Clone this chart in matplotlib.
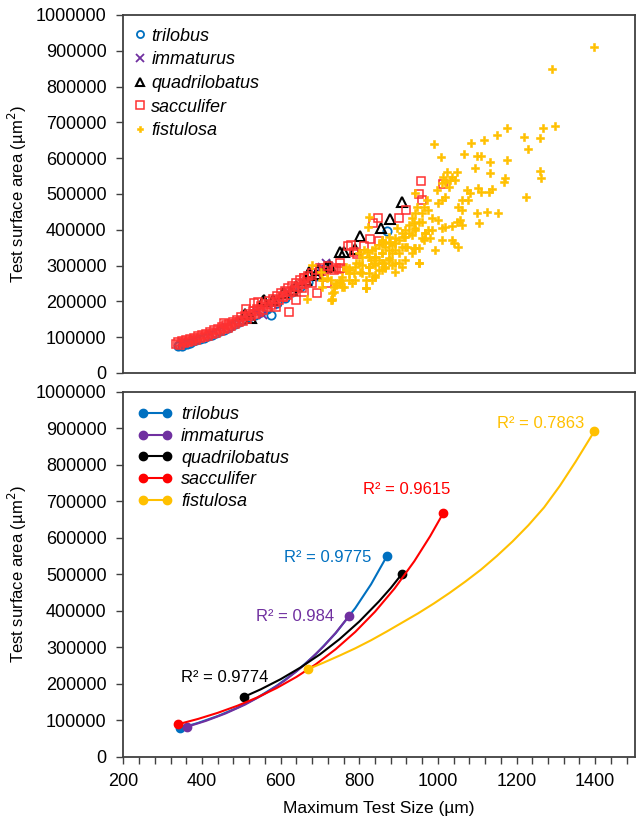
import numpy as np
import matplotlib.pyplot as plt
from matplotlib.ticker import MultipleLocator

plt.rcParams['font.family'] = ['Liberation Sans', 'DejaVu Sans']

# ---------- top panel: scatter of all specimens ----------
trilobus_x = [338, 342, 348, 355, 362, 370, 378, 386, 395, 405, 415, 425, 435, 445, 455,
              465, 475, 485, 495, 505, 520, 535, 550, 565, 576, 590, 610, 630, 650, 670,
              690, 871]
trilobus_y = [74000, 78000, 76000, 80000, 82000, 85000, 88000, 92000, 95000, 99000, 103000,
              107000, 112000, 117000, 121000, 126000, 131000, 136000, 142000, 147000, 155000,
              163000, 171000, 180000, 162000, 196000, 210000, 225000, 240000, 255000, 270000,
              397000]

immaturus_x = [350, 380, 420, 460, 500, 540, 555, 580, 620, 660, 700, 715, 723, 705]
immaturus_y = [86000, 95000, 110000, 128000, 148000, 170000, 162000, 190000, 225000, 255000,
               290000, 306000, 300000, 296000]

quadrilobatus_x = [909, 879, 856, 801, 752, 761, 789, 725, 672, 673, 559, 664, 694, 715, 630,
                   554, 525, 605, 690, 640, 580, 510]
quadrilobatus_y = [478000, 430000, 406000, 384000, 339000, 339000, 345000, 300000, 274000,
                   283000, 204000, 260000, 288000, 297000, 232000, 200000, 153000, 222000,
                   276000, 243000, 205000, 165000]

sacculifer_x = [335, 340, 345, 350, 355, 360, 365, 370, 375, 380, 385, 390, 395, 400, 405,
                410, 415, 420, 425, 430, 435, 440, 445, 450, 455, 460, 465, 470, 475, 480,
                485, 490, 495, 500, 505, 510, 515, 520, 525, 530, 535, 540, 545, 550, 555,
                560, 565, 570, 575, 580, 585, 590, 595, 600, 605, 610, 615, 620, 625, 630,
                635, 640, 645, 650, 655, 660, 665, 670, 680, 690, 700, 710, 720,
                958, 953, 959, 1012, 920, 900, 847, 834, 828, 850, 812, 780, 752, 748, 736,
                719, 693, 710, 681, 660, 655, 786, 795, 753, 740, 622, 772, 660, 639, 605,
                588, 542, 532, 512, 455]
sacculifer_y = [80000, 86000, 78000, 88000, 84000, 92000, 87000, 95000, 90000, 98000, 93000,
                103000, 97000, 106000, 101000, 110000, 104000, 114000, 108000, 119000, 113000,
                124000, 117000, 128000, 122000, 133000, 127000, 138000, 131000, 143000, 136000,
                149000, 141000, 155000, 146000, 160000, 152000, 166000, 158000, 172000, 164000,
                180000, 170000, 186000, 177000, 193000, 184000, 200000, 190000, 207000, 197000,
                214000, 204000, 222000, 211000, 229000, 218000, 236000, 226000, 244000, 233000,
                252000, 241000, 260000, 248000, 266000, 255000, 272000, 280000, 288000, 292000,
                285000, 300000,
                536000, 500000, 483000, 528000, 455000, 432000, 432000, 418000, 373000, 370000,
                355000, 357000, 306000, 290000, 288000, 250000, 224000, 269000, 250000, 264000,
                236000, 339000, 331000, 292000, 292000, 171000, 355000, 227000, 204000, 213000,
                185000, 199000, 195000, 178000, 140000]

fistulosa_x = [1398, 1290, 1297, 1267, 1175, 1151, 1218, 1259, 1228, 991, 1084, 1117, 1067,
               1008, 1099, 1110, 1132, 1175, 1094, 1132, 1048, 1023, 1035, 1014, 1259, 1261,
               1170, 1168, 1223, 1153, 1126, 1100, 1105, 1077, 1082, 1103, 1110, 1137, 1131,
               1073, 1061, 1052, 1061, 1056, 1061, 1048, 1035, 1018, 1010, 1001, 985, 976,
               1001, 1010, 1018, 1027, 997, 1010, 1018, 1031, 1044, 942, 972, 964, 947, 942,
               959, 938, 942, 926, 917, 909, 896, 917, 900, 892, 883, 866, 858, 875, 968, 964,
               951, 980, 1035, 1040, 1052, 1010, 985, 993, 938, 917, 934, 900, 883, 875, 858,
               850, 862, 837, 824, 829, 841, 900, 883, 917, 951, 892, 841, 816, 799, 790, 786,
               774, 765, 757, 752, 740, 736, 731, 730, 668, 706, 824, 823, 866, 850, 807, 816,
               774, 790, 782,
               913, 934, 892, 879, 866, 858, 850, 841, 833, 820, 812, 799, 807, 824, 841, 858,
               875, 892, 909, 921, 942, 875, 892, 858, 841, 824, 807, 791, 774, 765, 803, 824,
               841, 858, 866, 909, 833, 816, 757, 740, 731, 951, 959, 968, 976, 942, 926, 951,
               934, 959,
               681, 706, 719, 728, 753, 761, 736, 728, 702, 774]
fistulosa_y = [910000, 849000, 690000, 685000, 683000, 666000, 658000, 656000, 627000, 641000,
               643000, 651000, 611000, 602000, 606000, 607000, 588000, 595000, 572000, 558000,
               562000, 562000, 548000, 548000, 565000, 544000, 546000, 534000, 491000, 448000,
               450000, 446000, 418000, 483000, 502000, 516000, 506000, 513000, 506000, 511000,
               483000, 465000, 455000, 427000, 413000, 423000, 411000, 409000, 404000, 427000,
               432000, 455000, 474000, 483000, 492000, 520000, 511000, 532000, 534000, 539000,
               539000, 502000, 483000, 465000, 465000, 446000, 423000, 418000, 399000, 390000,
               399000, 390000, 404000, 381000, 372000, 362000, 358000, 353000, 367000, 381000,
               390000, 372000, 348000, 376000, 372000, 362000, 353000, 372000, 399000, 344000,
               348000, 353000, 334000, 334000, 334000, 320000, 334000, 316000, 306000, 306000,
               297000, 316000, 325000, 306000, 302000, 316000, 306000, 283000, 269000, 237000,
               306000, 297000, 278000, 288000, 297000, 269000, 255000, 250000, 241000, 222000,
               207000, 206000, 241000, 435000, 409000, 297000, 288000, 278000, 260000, 260000,
               260000, 250000,
               381000, 385000, 376000, 367000, 362000, 371000, 357000, 348000, 343000, 339000,
               343000, 334000, 325000, 325000, 325000, 334000, 343000, 343000, 353000, 353000,
               348000, 316000, 306000, 306000, 302000, 297000, 302000, 306000, 292000, 288000,
               283000, 278000, 274000, 288000, 292000, 297000, 260000, 236000, 241000, 246000,
               204000, 306000, 376000, 390000, 399000, 404000, 413000, 423000, 432000, 446000,
               302000, 260000, 264000, 260000, 260000, 241000, 227000, 204000, 283000, 278000]

# ---------- bottom panel: trend lines ----------
trilobus_fit_x = [344, 390, 440, 490, 540, 590, 640, 690, 740, 790, 830, 870]
trilobus_fit_y = [78000, 92500, 111300, 134000, 161300, 194200, 233600, 281200, 338400,
                  407400, 472400, 549000]

immaturus_fit_x = [363, 410, 460, 510, 560, 610, 660, 710, 740, 774]
immaturus_fit_y = [82200, 98100, 118400, 142900, 172400, 208100, 251100, 303100, 339200, 385400]

quadrilobatus_fit_x = [508, 550, 600, 650, 700, 750, 800, 850, 880, 909]
quadrilobatus_fit_y = [164400, 184800, 212300, 244000, 280300, 322200, 370200, 425400, 462000,
                       501400]

sacculifer_fit_x = [339, 390, 440, 490, 540, 590, 640, 690, 740, 790, 840, 890, 940, 980, 1014]
sacculifer_fit_y = [88800, 103400, 120100, 139500, 162000, 188100, 218400, 253600, 294500,
                    342000, 397200, 461200, 535600, 603700, 668200]

fistulosa_fit_x = [670, 710, 750, 790, 830, 870, 910, 950, 990, 1030, 1070, 1110, 1150, 1190,
                   1230, 1270, 1310, 1350, 1398]
fistulosa_fit_y = [240000, 258000, 277000, 297000, 319000, 343000, 368000, 393000, 420000,
                   449000, 480000, 513000, 550000, 590000, 634000, 683000, 742000, 808000,
                   892000]

species = ['trilobus', 'immaturus', 'quadrilobatus', 'sacculifer', 'fistulosa']
colors = ['#0070C0', '#7030A0', '#000000', '#FF0000', '#FFC000']
r2_labels = ['R² = 0.9775', 'R² = 0.984', 'R² = 0.9774', 'R² = 0.9615', 'R² = 0.7863']

fig = plt.figure(figsize=(6.36, 8.19), dpi=100)
ax1 = fig.add_axes([0.1939, 0.5446, 0.8038, 0.4371])
ax2 = fig.add_axes([0.1939, 0.0761, 0.8038, 0.4456])

# ---------- top: scatter ----------
ax1.plot(trilobus_x, trilobus_y, 'o', mfc='none', mec='#0070C0', ms=6, mew=1.3, label='trilobus')
ax1.plot(immaturus_x, immaturus_y, 'x', color='#7030A0', ms=6, mew=1.3, label='immaturus')
ax1.plot(quadrilobatus_x, quadrilobatus_y, '^', mfc='none', mec='black', ms=7, mew=1.5,
         label='quadrilobatus')
ax1.plot(sacculifer_x, sacculifer_y, 's', mfc='none', mec='#FF3030', ms=6, mew=1.1,
         label='sacculifer')
ax1.plot(fistulosa_x, fistulosa_y, 'P', color='#FFC000', mec='#FFC000', ms=5.5, mew=0.4,
         label='fistulosa')

leg1 = ax1.legend(loc='upper left', frameon=False, fontsize=13, handlelength=0.5,
                  handletextpad=0.35, labelspacing=0.37, borderaxespad=0.3, markerscale=0.85)
for t in leg1.get_texts():
    t.set_fontstyle('italic')

# ---------- bottom: trend lines ----------
fits = [(trilobus_fit_x, trilobus_fit_y), (immaturus_fit_x, immaturus_fit_y),
        (quadrilobatus_fit_x, quadrilobatus_fit_y), (sacculifer_fit_x, sacculifer_fit_y),
        (fistulosa_fit_x, fistulosa_fit_y)]
for (fx, fy), name, c in zip(fits, species, colors):
    ax2.plot(fx, fy, '-', color=c, lw=1.5, marker='o', ms=6, markevery=[0, -1], label=name)

ax2.text(832, 545000, r2_labels[0], color=colors[0], fontsize=12, ha='right', va='center')
ax2.text(735, 384000, r2_labels[1], color=colors[1], fontsize=12, ha='right', va='center')
ax2.text(570, 218000, r2_labels[2], color=colors[2], fontsize=12, ha='right', va='center')
ax2.text(920, 733000, r2_labels[3], color=colors[3], fontsize=12, ha='center', va='center')
ax2.text(1373, 913000, r2_labels[4], color=colors[4], fontsize=12, ha='right', va='center')

leg2 = ax2.legend(loc='upper left', frameon=False, fontsize=13, handlelength=1.9,
                  handletextpad=0.5, labelspacing=0.26, numpoints=2, borderaxespad=0.4)
for t in leg2.get_texts():
    t.set_fontstyle('italic')

# ---------- axes ----------
for ax in (ax1, ax2):
    ax.set_xlim(200, 1500)
    ax.set_ylim(0, 1000000)
    ax.yaxis.set_major_locator(MultipleLocator(100000))
    ax.ticklabel_format(axis='y', style='plain', useOffset=False)
    ax.set_ylabel('Test surface area (µm$^2$)', fontsize=12, labelpad=5)
    ax.tick_params(axis='y', direction='out', length=5, width=1, labelsize=13, pad=7,
                   color='#404040')
    for s in ax.spines.values():
        s.set_color('#404040')
        s.set_linewidth(1.3)

ax1.tick_params(axis='x', bottom=False, labelbottom=False)

ax2.xaxis.set_major_locator(MultipleLocator(200))
ax2.xaxis.set_minor_locator(MultipleLocator(40))
ax2.tick_params(axis='x', which='both', direction='out', length=5, width=1, labelsize=13,
                pad=7, color='#404040')
ax2.set_xlabel('Maximum Test Size (µm)', fontsize=12.5, labelpad=8)

plt.savefig('out.png', dpi=100)
